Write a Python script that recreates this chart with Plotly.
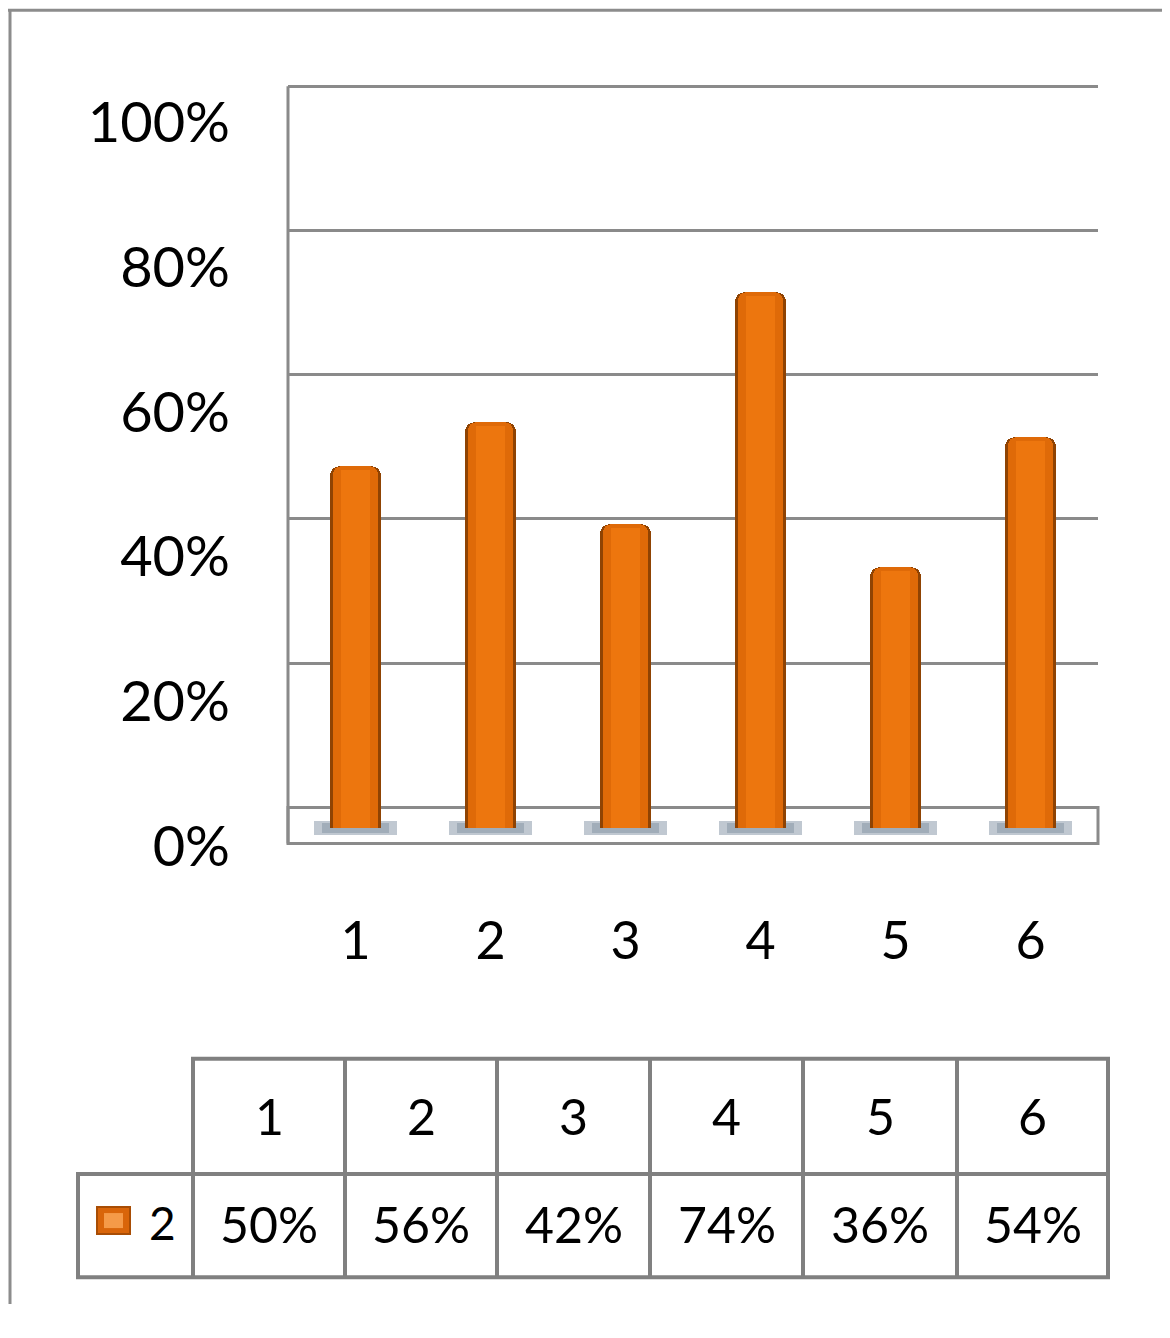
import plotly.graph_objects as go

# ---------------- data ----------------
categories = [1, 2, 3, 4, 5, 6]
series_name = "2"
values = [50, 56, 42, 74, 36, 54]
y_ticks = [0, 20, 40, 60, 80, 100]
y_tick_labels = [f"{v}%" for v in y_ticks]

# ---------------- geometry helpers (target pixels -> paper) ----------------
PAGE_W, PAGE_H = 1170, 1338
OFF = 8                      # default body margin of the html page
K = 0.9788                   # vertical scale observed between page and photograph
W, H = PAGE_W - 2 * OFF, PAGE_H - 2 * OFF
def px(x):
    return (x - OFF) / W
def py(y):
    return 1 - (y / K - OFF) / H

FONT = "Lato"
GRID = "#8a8a8a"

plot_left, plot_right = 288, 1098
plot_top, plot_bottom = 78, 850

# bar plane: 0 at 827px, 7.24 px per %
bar_zero, bar_scale = 827, 7.24
# back wall grid: 0 at 806px, 7.2 px per %
grid_zero, grid_scale = 806, 7.2
# label plane: 0 at 845px
lab_zero, lab_scale = 845, 7.23

def rng(zero, scale):
    return [-(plot_bottom - zero) / scale, (zero - plot_top) / scale]

def to_bar(pix):
    return (bar_zero - pix) / bar_scale

floor_top = to_bar(806)
floor_bot = to_bar(842)
wall_top = to_bar(86)

fig = go.Figure()

# base shadows
fig.add_trace(go.Bar(x=categories, y=[1.9] * len(categories), base=-0.9,
                     width=0.62, marker=dict(color="rgba(150,163,178,0.6)", line=dict(width=0)),
                     hoverinfo="skip", showlegend=False))
fig.add_trace(go.Bar(x=categories, y=[1.3] * len(categories), base=-0.6,
                     width=0.5, marker=dict(color="rgba(130,145,162,0.5)", line=dict(width=0)),
                     hoverinfo="skip", showlegend=False))
# cylinder layers
fig.add_trace(go.Bar(x=categories, y=values, width=0.38, name=series_name,
                     marker=dict(color="#8f4303", line=dict(width=0), cornerradius=9),
                     showlegend=False))
fig.add_trace(go.Bar(x=categories, y=values, width=0.33,
                     marker=dict(color="#df6a08", line=dict(width=0), cornerradius=8),
                     hoverinfo="skip", showlegend=False))
fig.add_trace(go.Bar(x=categories, y=[v - 0.6 for v in values], width=0.22,
                     marker=dict(color="#ed760e", line=dict(width=0), cornerradius=6),
                     hoverinfo="skip", showlegend=False))
# empty traces so the helper axes render
fig.add_trace(go.Scatter(x=[], y=[], yaxis="y2", showlegend=False))
fig.add_trace(go.Scatter(x=[], y=[], yaxis="y3", showlegend=False))

shapes = []
# outer frame (top and left only visible)
shapes.append(dict(type="line", xref="paper", yref="paper", x0=0, x1=1, y0=py(10), y1=py(10),
                   line=dict(color="#8c8c8c", width=3)))
shapes.append(dict(type="line", xref="paper", yref="paper", x0=px(10), x1=px(10), y0=py(10), y1=0,
                   line=dict(color="#8c8c8c", width=3)))
# floor
shapes.append(dict(type="rect", xref="x domain", yref="y", x0=0, x1=1, y0=floor_bot, y1=floor_top,
                   fillcolor="white", line=dict(color=GRID, width=3), layer="below"))
# left wall
shapes.append(dict(type="line", xref="x domain", yref="y", x0=0, x1=0, y0=floor_bot, y1=wall_top,
                   line=dict(color=GRID, width=3), layer="below"))

# ---------------- data table ----------------
col_edges = [78, 193, 345, 497, 650, 803, 957, 1108]
row_edges = [1057, 1172, 1275]
TL = "#808080"
TW = 4
def hline(x0, x1, y):
    shapes.append(dict(type="line", xref="paper", yref="paper", x0=px(x0), x1=px(x1), y0=py(y), y1=py(y),
                       line=dict(color=TL, width=TW)))
def vline(x, y0, y1):
    shapes.append(dict(type="line", xref="paper", yref="paper", x0=px(x), x1=px(x), y0=py(y0), y1=py(y1),
                       line=dict(color=TL, width=TW)))
hline(col_edges[1] - 2, col_edges[-1] + 2, row_edges[0])
hline(col_edges[0] - 2, col_edges[-1] + 2, row_edges[1])
hline(col_edges[0] - 2, col_edges[-1] + 2, row_edges[2])
vline(col_edges[0], row_edges[1], row_edges[2])
for xe in col_edges[1:]:
    vline(xe, row_edges[0], row_edges[2])
# legend key
shapes.append(dict(type="rect", xref="paper", yref="paper", x0=px(97), x1=px(130), y0=py(1232), y1=py(1205),
                   fillcolor="#d9650a", line=dict(color="#a84d05", width=2)))
shapes.append(dict(type="rect", xref="paper", yref="paper", x0=px(104), x1=px(123), y0=py(1226), y1=py(1211),
                   fillcolor="#f59a48", line=dict(width=0)))

annotations = []
for i, c in enumerate(categories):
    cx = (col_edges[i + 1] + col_edges[i + 2]) / 2
    annotations.append(dict(xref="paper", yref="paper", x=px(cx), y=py(1114), text=str(c), showarrow=False,
                            font=dict(family=FONT, size=50, color="black"), xanchor="center", yanchor="middle"))
    annotations.append(dict(xref="paper", yref="paper", x=px(cx), y=py(1222), text=f"{values[i]}%", showarrow=False,
                            font=dict(family=FONT, size=50, color="black"), xanchor="center", yanchor="middle"))
annotations.append(dict(xref="paper", yref="paper", x=px(147), y=py(1220), text=series_name, showarrow=False,
                        font=dict(family=FONT, size=46, color="black"), xanchor="left", yanchor="middle"))

fig.update_layout(
    width=W, height=H,
    margin=dict(l=0, r=0, t=0, b=0),
    paper_bgcolor="white", plot_bgcolor="rgba(0,0,0,0)",
    barmode="overlay", bargap=0,
    showlegend=False,
    shapes=shapes, annotations=annotations,
    xaxis=dict(domain=[px(plot_left), px(plot_right)], range=[0.5, 6.5],
               tickvals=categories, ticktext=[str(c) for c in categories],
               showgrid=False, zeroline=False, showline=False, ticks="",
               ticklabelstandoff=55,
               tickfont=dict(family=FONT, size=52, color="black")),
    yaxis=dict(domain=[py(plot_bottom), py(plot_top)], range=rng(bar_zero, bar_scale),
               showgrid=False, zeroline=False, showticklabels=False, showline=False),
    yaxis2=dict(overlaying="y", range=rng(grid_zero, grid_scale), tickvals=y_ticks,
                showgrid=True, gridcolor=GRID, gridwidth=3, zeroline=False,
                showticklabels=False, showline=False),
    yaxis3=dict(overlaying="y", range=rng(lab_zero, lab_scale), tickvals=y_ticks, ticktext=y_tick_labels,
                showgrid=False, zeroline=False, showline=False, ticks="",
                ticklabelstandoff=57,
                tickfont=dict(family=FONT, size=56, color="black")),
)

fig.write_html("out.html", config={"displayModeBar": False})
